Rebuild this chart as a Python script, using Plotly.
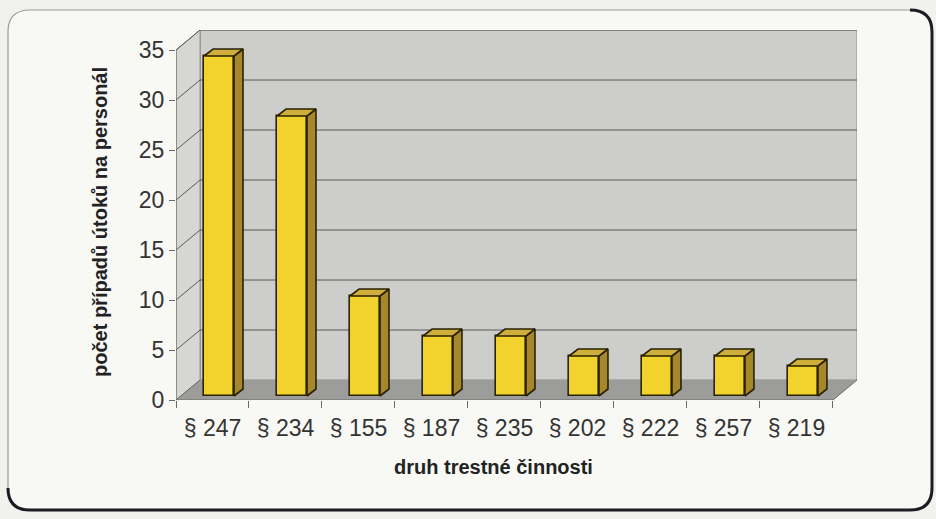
import plotly.graph_objects as go

# ---- data ----
categories = ["§ 247", "§ 234", "§ 155", "§ 187", "§ 235", "§ 202", "§ 222", "§ 257", "§ 219"]
cases = [34, 28, 10, 6, 6, 4, 4, 4, 3]
y_ticks = [0, 5, 10, 15, 20, 25, 30, 35]
y_title = "počet případů útoků na personál"
x_title = "druh trestné činnosti"

# ---- pseudo-3D geometry (in axis units) ----
N = len(categories)
Y_MAX = 35
DX, DY = 0.33, 2.0          # depth of the box (back wall offset)
BX, BY = 0.09, 0.4          # offset of the bar front faces into the box
BW = 0.41                   # bar width
BDX, BDY = 0.123, 0.7       # bar depth

FIG_W, FIG_H = 936, 519
L, R, T, B = 176, 857, 30, 400   # plot area in pixels

FONT = "Liberation Sans, Arial, sans-serif"
WALL = "#cdcdcb"
SIDE = "#d6d6d3"
FLOOR = "#9c9c9a"
GRID = "#5a5a5a"
FRONT = "#f2d22c"
TOP = "#cfae3c"
SIDEFACE = "#a6872c"
EDGE = "#2a2200"


def px(x):
    return (x - L) / (R - L)


def py(y):
    return (B - y) / (B - T)


shapes = []
x0, x1 = -0.5, N - 0.5

# box walls
shapes.append(dict(type="rect", xref="x", yref="y", x0=x0 + DX, x1=x1 + DX, y0=DY, y1=Y_MAX + DY,
                   fillcolor=WALL, line=dict(color="#8a8a8a", width=1), layer="below"))
shapes.append(dict(type="path", xref="x", yref="y", layer="below",
                   path=f"M{x0},0 L{x0},{Y_MAX} L{x0 + DX},{Y_MAX + DY} L{x0 + DX},{DY} Z",
                   fillcolor=SIDE, line=dict(color="#8a8a8a", width=1)))
shapes.append(dict(type="path", xref="x", yref="y", layer="below",
                   path=f"M{x0},0 L{x1},0 L{x1 + DX},{DY} L{x0 + DX},{DY} Z",
                   fillcolor=FLOOR, line=dict(width=0)))

# gridlines on back wall and side wall
for t in y_ticks[1:]:
    shapes.append(dict(type="line", xref="x", yref="y", x0=x0 + DX, x1=x1 + DX, y0=t + DY, y1=t + DY,
                       line=dict(color=GRID, width=1), layer="below"))
    shapes.append(dict(type="line", xref="x", yref="y", x0=x0, x1=x0 + DX, y0=t, y1=t + DY,
                       line=dict(color=GRID, width=1), layer="below"))

# front axis lines
shapes.append(dict(type="line", xref="x", yref="y", x0=x0, x1=x0, y0=0, y1=Y_MAX,
                   line=dict(color="#6a6a6a", width=1)))
shapes.append(dict(type="line", xref="x", yref="y", x0=x0, x1=x1, y0=0, y1=0,
                   line=dict(color="#6a6a6a", width=1)))
shapes.append(dict(type="line", xref="x", yref="y", x0=x1, x1=x1 + DX, y0=0, y1=DY,
                   line=dict(color="#6a6a6a", width=1)))
shapes.append(dict(type="line", xref="x", yref="y", x0=x0, x1=x0 + DX, y0=0, y1=DY,
                   line=dict(color="#6a6a6a", width=1)))

# card with rounded corners
cx0, cx1, cy0, cy1, rad = 8, 932, 10, 510, 22
card = (f"M{px(cx0 + rad)},{py(cy0)} L{px(cx1 - rad)},{py(cy0)} "
        f"Q{px(cx1)},{py(cy0)} {px(cx1)},{py(cy0 + rad)} L{px(cx1)},{py(cy1 - rad)} "
        f"Q{px(cx1)},{py(cy1)} {px(cx1 - rad)},{py(cy1)} L{px(cx0 + rad)},{py(cy1)} "
        f"Q{px(cx0)},{py(cy1)} {px(cx0)},{py(cy1 - rad)} L{px(cx0)},{py(cy0 + rad)} "
        f"Q{px(cx0)},{py(cy0)} {px(cx0 + rad)},{py(cy0)} Z")
shapes.insert(0, dict(type="path", xref="paper", yref="paper", path=card, layer="below",
                      fillcolor="#f8f8f5", line=dict(color="#9a9a98", width=1.2)))
shadow = (f"M{px(cx1 - rad)},{py(cy0)} Q{px(cx1)},{py(cy0)} {px(cx1)},{py(cy0 + rad)} "
          f"L{px(cx1)},{py(cy1 - rad)} Q{px(cx1)},{py(cy1)} {px(cx1 - rad)},{py(cy1)} "
          f"L{px(cx0 + rad)},{py(cy1)} Q{px(cx0)},{py(cy1)} {px(cx0)},{py(cy1 - rad)}")
shapes.insert(1, dict(type="path", xref="paper", yref="paper", path=shadow, layer="below",
                      line=dict(color="#1c1c24", width=3)))

fig = go.Figure()

# bar front faces
xs = [i + BX for i in range(N)]
fig.add_trace(go.Bar(x=xs, y=cases, base=[BY] * N, width=BW,
                     marker=dict(color=FRONT, line=dict(color=EDGE, width=1.6)),
                     hoverinfo="skip", showlegend=False))

# bar side and top faces
for xc, v in zip(xs, cases):
    l, r = xc - BW / 2, xc + BW / 2
    bot, top = BY, BY + v
    fig.add_trace(go.Scatter(
        x=[r, r + BDX, r + BDX, r, r], y=[bot, bot + BDY, top + BDY, top, bot],
        mode="lines", fill="toself", fillcolor=SIDEFACE,
        line=dict(color=EDGE, width=1.6), hoverinfo="skip", showlegend=False))
    fig.add_trace(go.Scatter(
        x=[l, l + BDX, r + BDX, r, l], y=[top, top + BDY, top + BDY, top, top],
        mode="lines", fill="toself", fillcolor=TOP,
        line=dict(color=EDGE, width=1.6), hoverinfo="skip", showlegend=False))

fig.update_layout(
    width=FIG_W, height=FIG_H,
    margin=dict(l=L, r=FIG_W - R, t=T, b=FIG_H - B),
    paper_bgcolor="#f1f1ed", plot_bgcolor="rgba(0,0,0,0)",
    font=dict(family=FONT, color="#333333"),
    shapes=shapes, showlegend=False, bargap=0,
    xaxis=dict(range=[x0, x1 + DX], tickmode="array", tickvals=list(range(N)), ticktext=categories,
               ticks="outside", ticklen=7, tickcolor="rgba(0,0,0,0)",
               minor=dict(ticks="outside", tickmode="linear", tick0=x0, dtick=1, ticklen=7,
                          tickcolor="#6a6a6a", tickwidth=1),
               showgrid=False, zeroline=False, showline=False,
               tickfont=dict(size=23, color="#333333"), fixedrange=True),
    yaxis=dict(range=[0, Y_MAX + DY], tickmode="array", tickvals=y_ticks,
               ticks="outside", ticklen=6, tickcolor="#6a6a6a",
               showgrid=False, zeroline=False, showline=False,
               tickfont=dict(size=23, color="#333333"), fixedrange=True),
    annotations=[
        dict(text=f"<b>{y_title}</b>", xref="paper", yref="paper", x=px(100), y=py(222),
             xanchor="center", yanchor="middle",
             textangle=-90, showarrow=False, font=dict(size=20, color="#222222")),
        dict(text=f"<b>{x_title}</b>", xref="paper", yref="paper", x=px(493), y=py(467),
             xanchor="center", yanchor="middle",
             showarrow=False, font=dict(size=20, color="#222222")),
    ],
)

fig.write_html("out.html")
